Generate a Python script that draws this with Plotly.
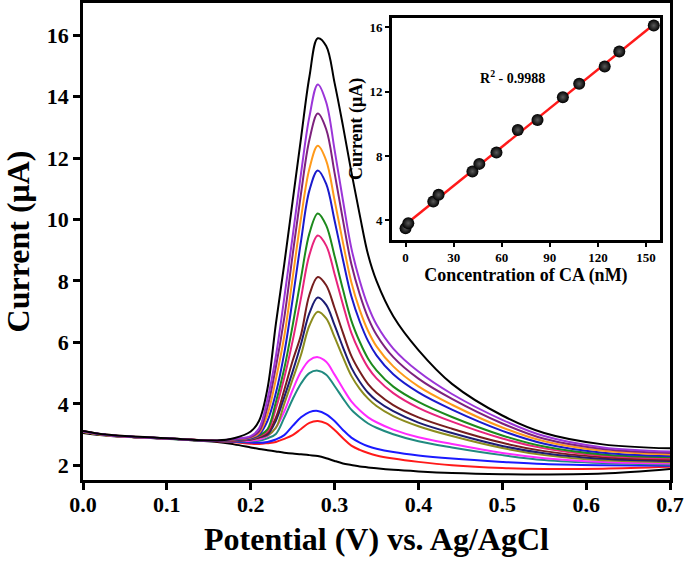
import numpy as np
import plotly.graph_objects as go

# DPV scans: potential grid (V vs Ag/AgCl) shared by every scan
potential = [0.00, 0.03, 0.10, 0.16, 0.18, 0.20, 0.21, 0.22, 0.23, 0.24, 0.25, 0.26, 0.27, 0.28,
             0.29, 0.30, 0.31, 0.32, 0.33, 0.34, 0.35, 0.37, 0.40, 0.44, 0.50, 0.55, 0.62, 0.70]

# current (uA) for each scan
i_blank = [3.05, 2.96, 2.86, 2.76, 2.68, 2.58, 2.53, 2.49, 2.45, 2.41, 2.38, 2.36, 2.33, 2.30,
           2.23, 2.14, 2.06, 2.01, 1.96, 1.93, 1.90, 1.85, 1.80, 1.75, 1.71, 1.70, 1.73, 1.88]
i_red = [3.08, 2.97, 2.87, 2.78, 2.75, 2.70, 2.69, 2.72, 2.76, 2.86, 2.98, 3.18, 3.38, 3.44,
         3.36, 3.15, 2.88, 2.64, 2.50, 2.40, 2.32, 2.22, 2.11, 2.00, 1.91, 1.88, 1.89, 1.95]
i_blue = [3.10, 2.98, 2.87, 2.79, 2.77, 2.74, 2.73, 2.76, 2.84, 2.98, 3.28, 3.56, 3.73, 3.77,
          3.66, 3.44, 3.15, 2.90, 2.74, 2.62, 2.54, 2.43, 2.32, 2.22, 2.11, 2.04, 2.00, 1.98]
i_teal = [3.11, 2.98, 2.87, 2.79, 2.78, 2.78, 2.80, 2.88, 3.02, 3.55, 4.15, 4.66, 5.00, 5.08,
          4.95, 4.58, 4.18, 3.81, 3.56, 3.36, 3.22, 3.01, 2.78, 2.58, 2.33, 2.17, 2.07, 2.02]
i_magenta = [3.10, 2.98, 2.87, 2.79, 2.79, 2.80, 2.84, 2.95, 3.22, 3.75, 4.45, 5.05, 5.42, 5.52,
             5.37, 4.95, 4.50, 4.08, 3.79, 3.56, 3.40, 3.16, 2.91, 2.69, 2.40, 2.23, 2.11, 2.06]
i_olive = [3.09, 2.97, 2.87, 2.79, 2.80, 2.83, 2.89, 2.97, 3.22, 4.00, 4.80, 5.60, 6.55, 7.00,
           6.78, 6.17, 5.52, 4.91, 4.49, 4.17, 3.93, 3.60, 3.27, 2.95, 2.56, 2.33, 2.16, 2.10]
i_navy = [3.10, 2.98, 2.87, 2.79, 2.80, 2.84, 2.91, 3.00, 3.45, 4.22, 5.05, 5.95, 6.95, 7.46,
          7.22, 6.56, 5.84, 5.18, 4.72, 4.36, 4.11, 3.76, 3.39, 3.05, 2.63, 2.39, 2.21, 2.14]
i_brown = [3.12, 2.99, 2.88, 2.80, 2.81, 2.85, 2.93, 3.05, 3.55, 4.45, 5.40, 6.25, 7.55, 8.13,
           7.86, 7.12, 6.31, 5.56, 5.05, 4.64, 4.36, 3.96, 3.56, 3.19, 2.73, 2.46, 2.26, 2.18]
i_pink = [3.10, 2.98, 2.87, 2.79, 2.81, 2.86, 2.95, 3.10, 3.85, 4.85, 6.05, 7.45, 8.85, 9.48,
          9.15, 8.23, 7.23, 6.31, 5.68, 5.18, 4.83, 4.35, 3.87, 3.42, 2.87, 2.55, 2.31, 2.22]
i_green = [3.08, 2.97, 2.87, 2.79, 2.82, 2.87, 2.97, 3.17, 4.05, 5.15, 6.55, 8.10, 9.55, 10.20,
           9.81, 8.81, 7.72, 6.71, 6.02, 5.47, 5.09, 4.56, 4.06, 3.57, 2.97, 2.61, 2.35, 2.26]
i_blue2 = [3.10, 2.98, 2.88, 2.80, 2.83, 2.88, 3.00, 3.45, 4.35, 5.65, 7.40, 9.30, 10.95, 11.60,
           11.16, 9.97, 8.69, 7.50, 6.68, 6.04, 5.58, 4.96, 4.37, 3.81, 3.12, 2.70, 2.41, 2.30]
i_orange = [3.09, 2.97, 2.87, 2.80, 2.84, 2.90, 3.05, 3.65, 4.80, 6.20, 8.10, 10.05, 11.65, 12.40,
            11.92, 10.63, 9.25, 7.96, 7.06, 6.37, 5.87, 5.22, 4.57, 3.97, 3.23, 2.78, 2.47, 2.35]
i_purple = [3.11, 2.98, 2.87, 2.80, 2.85, 2.92, 3.10, 3.90, 5.20, 6.80, 8.85, 10.85, 12.60, 13.45,
            12.94, 11.52, 9.98, 8.55, 7.57, 6.80, 6.25, 5.52, 4.82, 4.16, 3.36, 2.86, 2.53, 2.40]
i_violet = [3.10, 2.98, 2.87, 2.80, 2.86, 2.95, 3.20, 4.15, 5.55, 7.45, 9.45, 11.50, 13.35, 14.40,
            13.82, 12.27, 10.62, 9.07, 8.01, 7.18, 6.58, 5.80, 5.05, 4.32, 3.48, 2.95, 2.58, 2.45]
i_black = [3.12, 2.99, 2.88, 2.81, 2.88, 3.10, 3.45, 4.50, 6.60, 8.55, 10.60, 12.65, 14.65, 15.90,
           15.65, 14.45, 13.05, 11.55, 10.15, 8.85, 8.00, 6.85, 5.75, 4.65, 3.62, 3.05, 2.68, 2.55]

# calibration inset: CA concentration (nM) vs peak current (uA)
conc_nm = [0.0, 1.7, 17.3, 20.6, 41.7, 46.0, 56.7, 70.0, 82.3, 98.1, 108.3, 124.2, 133.3, 154.8]
peak_ua = [3.52, 3.83, 5.17, 5.59, 7.04, 7.51, 8.21, 9.62, 10.24, 11.65, 12.48, 13.56, 14.49, 16.10]

scans = [
    (i_blank, 'black'),
    (i_red, '#ff1a1a'),
    (i_blue, '#1a1aff'),
    (i_teal, '#218a80'),
    (i_magenta, '#ff2bff'),
    (i_olive, '#8c8c1e'),
    (i_navy, '#1c1c73'),
    (i_brown, '#761e1e'),
    (i_pink, '#e8247c'),
    (i_green, '#1c8a1c'),
    (i_blue2, '#1a1acc'),
    (i_orange, '#ff9a1a'),
    (i_purple, '#7d227d'),
    (i_violet, '#9b35d8'),
    (i_black, 'black'),
]

SERIF = 'Liberation Serif'

fig = go.Figure()

for current, colour in scans:
    fig.add_trace(go.Scatter(
        x=potential, y=current, mode='lines',
        line=dict(color=colour, width=2, shape='spline', smoothing=1.0),
        hoverinfo='skip',
    ))

# linear calibration fit
slope, intercept = np.polyfit(conc_nm, peak_ua, 1)
fit_x = np.array([min(conc_nm), max(conc_nm)])
fig.add_trace(go.Scatter(
    x=fit_x, y=slope * fit_x + intercept, mode='lines',
    line=dict(color='#ff1a1a', width=2.5),
    xaxis='x2', yaxis='y2', hoverinfo='skip',
))
fig.add_trace(go.Scatter(
    x=conc_nm, y=peak_ua, mode='markers',
    marker=dict(size=12, color='black',
                gradient=dict(type='radial', color='#5a5a5a'),
                line=dict(width=0)),
    xaxis='x2', yaxis='y2', hoverinfo='skip',
))

fig.add_annotation(
    x=67, y=12.9, xref='x2', yref='y2',
    text='R<sup>2</sup> - 0.9988', showarrow=False,
    font=dict(family=SERIF, size=14, color='black', weight='bold'),
)

axis_common = dict(
    showline=True, linecolor='black', mirror=True,
    ticks='outside', tickcolor='black',
    showgrid=False, zeroline=False, automargin=False,
)

fig.update_layout(
    width=685, height=562,
    margin=dict(l=83, r=15, t=3, b=82),
    plot_bgcolor='white', paper_bgcolor='white',
    showlegend=False,
    xaxis=dict(
        **axis_common, range=[0, 0.7], dtick=0.1, tickformat='.1f',
        linewidth=2.5, ticklen=7, tickwidth=2.5, ticklabelstandoff=-4,
        tickfont=dict(family=SERIF, size=22, color='black', weight='bold'),
        title=dict(text='Potential (V) vs. Ag/AgCl', standoff=12,
                   font=dict(family=SERIF, size=32, color='black', weight='bold')),
    ),
    yaxis=dict(
        **axis_common, range=[1.52, 17.05], tickvals=[2, 4, 6, 8, 10, 12, 14, 16],
        linewidth=2.5, ticklen=7, tickwidth=2.5,
        tickfont=dict(family=SERIF, size=22, color='black', weight='bold'),
        title=dict(text='Current (μA)', standoff=9,
                   font=dict(family=SERIF, size=32, color='black', weight='bold')),
    ),
    xaxis2=dict(
        **axis_common, domain=[0.526, 0.983], anchor='y2',
        range=[-8.6, 158.7], tickvals=[0, 30, 60, 90, 120, 150],
        linewidth=2.5, ticklen=4, tickwidth=1.5,
        tickfont=dict(family=SERIF, size=13, color='black', weight='bold'),
        title=dict(text='Concentration of CA (nM)', standoff=3,
                   font=dict(family=SERIF, size=18, color='black', weight='bold')),
    ),
    yaxis2=dict(
        **axis_common, domain=[0.503, 0.969], anchor='x2',
        range=[2.78, 16.58], tickvals=[4, 8, 12, 16],
        linewidth=2.5, ticklen=4, tickwidth=1.5,
        tickfont=dict(family=SERIF, size=13, color='black', weight='bold'),
        title=dict(text='Current (μA)', standoff=3,
                   font=dict(family=SERIF, size=18, color='black', weight='bold')),
    ),
)

# drop the browser's default page margin so the figure sits at the window corner
fig.write_html('out.html', config={'displayModeBar': False},
               post_script="document.body.style.margin='0';")
